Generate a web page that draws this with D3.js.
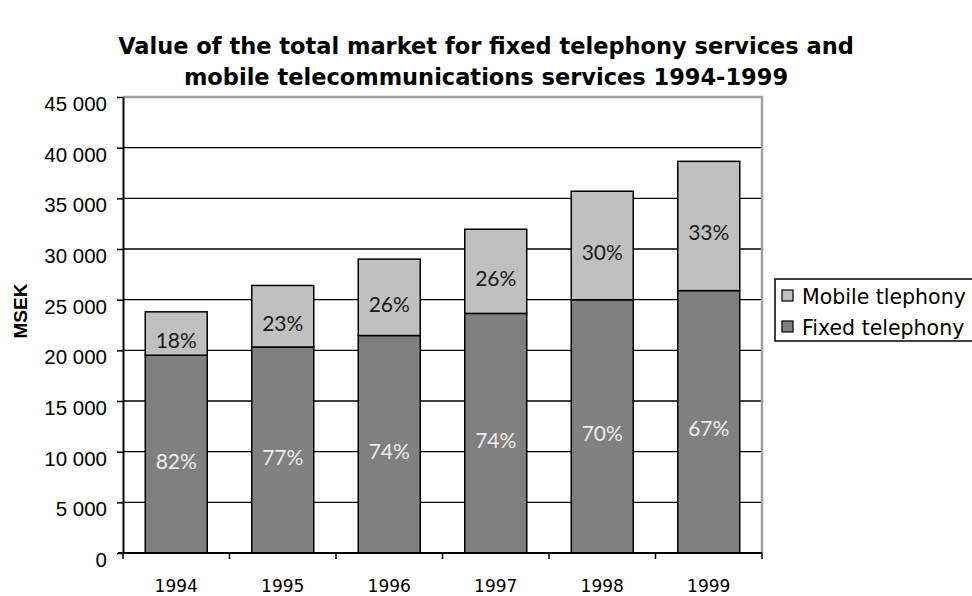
<!DOCTYPE html>
<html>
<head>
<meta charset="utf-8">
<script src="https://cdn.jsdelivr.net/npm/d3@7"></script>
<style>
  html, body { margin: 0; padding: 0; background: #fff; }
  svg { display: block; }
</style>
</head>
<body>
<svg id="chart" width="972" height="596"></svg>
<script>
// Market value per year (MSEK) and the fixed-telephony share of each year's total
const years = ["1994", "1995", "1996", "1997", "1998", "1999"];
const totalMarket = [23800, 26400, 29000, 31950, 35700, 38650];
const fixedShare = [82, 77, 74, 74, 70, 67];
const mobileShare = [18, 23, 26, 26, 30, 33];
const yTicks = [0, 5000, 10000, 15000, 20000, 25000, 30000, 35000, 40000, 45000];
const seriesNames = ["Mobile tlephony", "Fixed telephony"];
const titleLines = [
  "Value of the total market for fixed telephony services and",
  "mobile telecommunications services 1994-1999"
];

const rows = years.map((y, i) => {
  const fixed = totalMarket[i] * fixedShare[i] / 100;
  return { year: y, fixed: fixed, mobile: totalMarket[i] - fixed,
           fixedPct: fixedShare[i], mobilePct: mobileShare[i] };
});

const svg = d3.select("#chart");
const plot = { left: 123, right: 762, top: 97, bottom: 553 };

const x = d3.scaleBand()
  .domain(years)
  .range([plot.left, plot.right])
  .paddingInner(0.418)
  .paddingOuter(0.209);

const y = d3.scaleLinear()
  .domain([0, 45000])
  .range([plot.bottom, plot.top]);

const fmt = d3.formatLocale({ decimal: ",", thousands: " ", grouping: [3], currency: ["", ""] }).format(",d");

// Title
svg.append("g")
  .selectAll("text")
  .data(titleLines)
  .join("text")
  .attr("x", 486)
  .attr("y", (d, i) => 54 + i * 31)
  .attr("text-anchor", "middle")
  .style("font-family", "'DejaVu Sans', Verdana, sans-serif")
  .style("font-weight", "bold")
  .style("font-size", "22.5px")
  .style("fill", "#000")
  .text(d => d);

// Horizontal gridlines
svg.append("g")
  .selectAll("line")
  .data(yTicks.filter(v => v > 0 && v < 45000))
  .join("line")
  .attr("x1", plot.left).attr("x2", plot.right)
  .attr("y1", d => y(d)).attr("y2", d => y(d))
  .attr("stroke", "#000")
  .attr("stroke-width", 1.3);

// Plot-area frame on the top and right sides
svg.append("path")
  .attr("d", `M${plot.left},${y(45000)}H${plot.right}V${plot.bottom}`)
  .attr("fill", "none")
  .attr("stroke", "#a0a0a0")
  .attr("stroke-width", 2.5);

// Stacked bars
const stack = d3.stack().keys(["fixed", "mobile"]);
const layers = stack(rows);
const fills = { fixed: "#808080", mobile: "#c0c0c0" };

svg.append("g")
  .selectAll("g")
  .data(layers)
  .join("g")
  .attr("fill", d => fills[d.key])
  .selectAll("rect")
  .data(d => d)
  .join("rect")
  .attr("x", d => x(d.data.year))
  .attr("width", x.bandwidth())
  .attr("y", d => y(d[1]))
  .attr("height", d => y(d[0]) - y(d[1]))
  .attr("stroke", "#000")
  .attr("stroke-width", 1.5);

// Percentage labels in the middle of each segment
const labelLayer = svg.append("g")
  .style("font-family", "Lato, sans-serif")
  .style("font-size", "21px")
  .attr("text-anchor", "middle");

layers.forEach(layer => {
  labelLayer.append("g")
    .selectAll("text")
    .data(layer)
    .join("text")
    .attr("x", d => x(d.data.year) + x.bandwidth() / 2)
    .attr("y", d => (y(d[0]) + y(d[1])) / 2 + 6)
    .attr("dominant-baseline", "central")
    .style("fill", layer.key === "fixed" ? "#ececec" : "#1a1a1a")
    .text(d => (layer.key === "fixed" ? d.data.fixedPct : d.data.mobilePct) + "%");
});

// Y axis
const yAxis = svg.append("g")
  .attr("transform", `translate(${plot.left},0)`)
  .call(d3.axisLeft(y).tickValues(yTicks).tickFormat(fmt).tickSize(6).tickSizeOuter(0));
yAxis.select(".domain").attr("stroke", "#000").attr("stroke-width", 2);
yAxis.selectAll(".tick line").attr("stroke", "#000").attr("stroke-width", 1.5);
yAxis.selectAll(".tick text")
  .attr("x", -16)
  .attr("y", 6)
  .attr("dy", "0.36em")
  .style("font-family", "'Liberation Sans', Arial, sans-serif")
  .style("font-size", "20.5px")
  .style("fill", "#000");

// X axis: ticks fall between categories
const xAxisG = svg.append("g");
xAxisG.append("line")
  .attr("x1", plot.left - 5).attr("x2", plot.right)
  .attr("y1", plot.bottom).attr("y2", plot.bottom)
  .attr("stroke", "#000").attr("stroke-width", 2);
const step = x.step();
xAxisG.selectAll("line.sep")
  .data(d3.range(years.length + 1))
  .join("line")
  .attr("class", "sep")
  .attr("x1", i => plot.left + i * step).attr("x2", i => plot.left + i * step)
  .attr("y1", plot.bottom).attr("y2", plot.bottom + 6)
  .attr("stroke", "#000").attr("stroke-width", 1.5);
xAxisG.selectAll("text")
  .data(years)
  .join("text")
  .attr("x", d => x(d) + x.bandwidth() / 2)
  .attr("y", 592)
  .attr("text-anchor", "middle")
  .style("font-family", "'DejaVu Sans', Verdana, sans-serif")
  .style("font-size", "17px")
  .style("fill", "#000")
  .text(d => d);

// Y axis title
svg.append("text")
  .attr("transform", "translate(27,311) rotate(-90)")
  .attr("text-anchor", "middle")
  .style("font-family", "'Liberation Sans', Arial, sans-serif")
  .style("font-weight", "bold")
  .style("font-size", "19px")
  .text("MSEK");

// Legend
const legend = svg.append("g").attr("transform", "translate(775,279)");
legend.append("rect")
  .attr("width", 205).attr("height", 62)
  .attr("fill", "#fff").attr("stroke", "#000").attr("stroke-width", 1.5);
const legendFills = [fills.mobile, fills.fixed];
const items = legend.selectAll("g.item")
  .data(seriesNames)
  .join("g")
  .attr("class", "item")
  .attr("transform", (d, i) => `translate(0,${i * 31})`);
items.append("rect")
  .attr("x", 7).attr("y", 11)
  .attr("width", 11).attr("height", 11)
  .attr("fill", (d, i) => legendFills[i])
  .attr("stroke", "#000").attr("stroke-width", 1.2);
items.append("text")
  .attr("x", 27).attr("y", 25)
  .style("font-family", "'DejaVu Sans', Verdana, sans-serif")
  .style("font-size", "20.5px")
  .style("fill", "#000")
  .text(d => d);
</script>
</body>
</html>
